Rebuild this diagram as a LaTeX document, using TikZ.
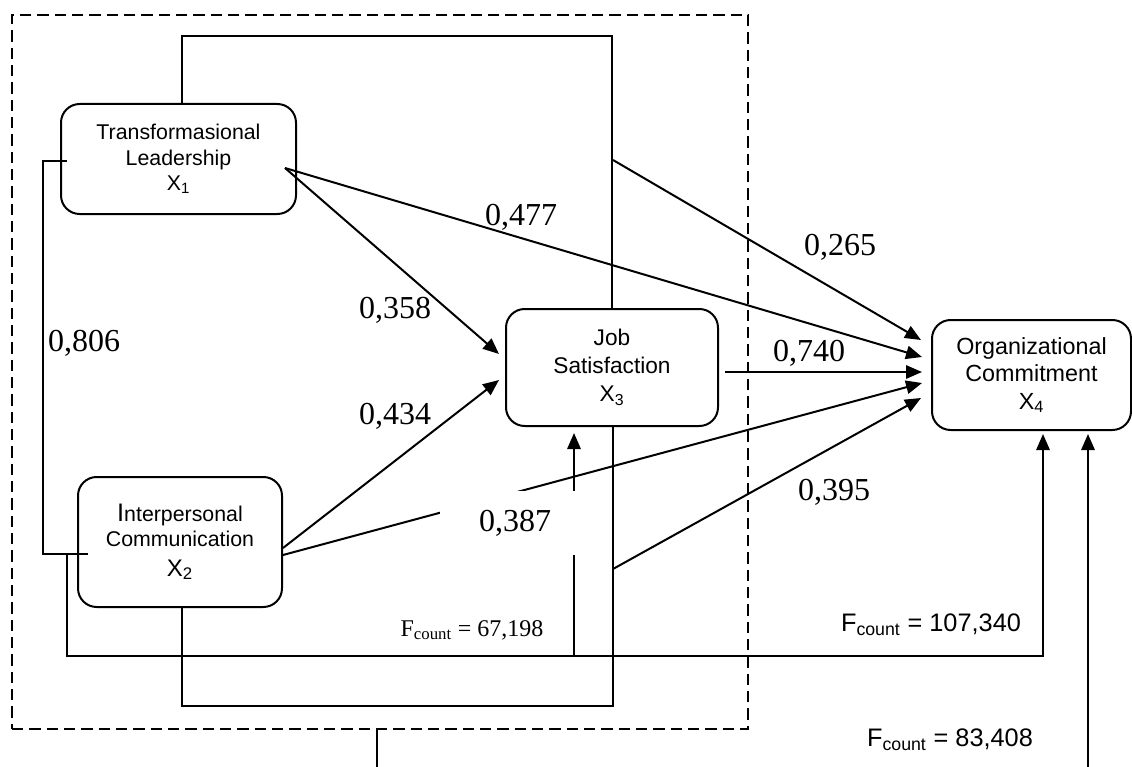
\documentclass[tikz,border=0pt]{standalone}
\usepackage{fontspec}
\setmainfont{Liberation Sans}
\newfontfamily\timesfont{Liberation Serif}
\usetikzlibrary{arrows.meta,positioning}

\begin{document}
\begin{tikzpicture}[x=0.75pt, y=-0.75pt,
	var/.style = {draw, rounded corners=14pt, line width=1.5pt, align=center, inner sep=0pt, font=\fontsize{16}{19}\selectfont},
	coef/.style = {font=\timesfont\fontsize{24}{28}\selectfont, inner sep=0pt},
	fcount/.style = {font=\fontsize{19}{22}\selectfont, inner sep=0pt},
	link/.style = {line width=1.5pt},
	arr/.style = {link, -{Triangle[length=12pt, width=10pt]}}]
			
			\useasboundingbox (0,0) rectangle (1132,767);
			
			\node[draw, line width=2pt, dash pattern=on 8.5pt off 4.5pt, minimum width=552pt, minimum height=535.5pt] (grp) at (380,372) {};
			
			\node[var, minimum width=176.25pt, minimum height=82.5pt] (tl) at (178.5,159) {Transformasional\\Leadership\\X\textsubscript{1}};
			\node[var, minimum width=153pt, minimum height=97.5pt] (ic) at (180,542) {{\fontsize{19}{19}\selectfont I}nterpersonal\\Communication\\[3pt]{\fontsize{18}{20}\selectfont X\textsubscript{2}}};
			\node[var, minimum width=159pt, minimum height=87.75pt, font=\fontsize{17}{21}\selectfont] (js) at (612,367.5) {Job\\Satisfaction\\X\textsubscript{3}};
			\node[var, minimum width=149.25pt, minimum height=82.5pt, font=\fontsize{17.5}{20.6}\selectfont] (oc) at (1031.5,375) {Organizational\\Commitment\\X\textsubscript{4}};
			
			\coordinate (o1) at ([shift={(-12,9)}]tl.east);
			\coordinate (o2) at ([shift={(0,6)}]ic.east);
			\coordinate (o3) at ([shift={(0,13)}]ic.east);
			
			\draw[link] ([shift={(3.5,0)}]tl.north) -- ++(0,-67) -| (js.north);
			\draw[link] ([shift={(1,0)}]js.south) -- ++(0,279) -| ([shift={(2,0)}]ic.south);
			\draw[link] ([shift={(7,2)}]tl.west) -- ++(-24.5,0) |- ([shift={(11,12)}]ic.west);
			\draw[link] ([shift={(-3,0)}]grp.south) -- ++(0,38);
			
			\draw[arr] ([shift={(1,-148)}]js.north) -- ([shift={(-10,-35)}]oc.west);
			\draw[arr] (o1) -- ([shift={(-9,-18)}]oc.west);
			\draw[arr] (o1) -- ([shift={(-6,-13.5)}]js.west);
			\draw[arr] (o2) -- ([shift={(-6,12.5)}]js.west);
			\draw[arr] (o3) -- ([shift={(-9,8)}]oc.west);
			\draw[arr] ([shift={(6,4.5)}]js.east) -- ([shift={(-9,-3)}]oc.west);
			\draw[arr] ([shift={(1,142)}]js.south) -- ([shift={(-10,23)}]oc.west);
			
			\draw[arr] ([shift={(-10,12)}]ic.west) -- ++(0,102) -| ([shift={(11.5,3)}]oc.south);
			\draw[arr] ([shift={(-38,230)}]js.south) -- ([shift={(-38,6)}]js.south);
			\draw[arr] ([shift={(56.5,337)}]oc.south) -- ([shift={(56.5,3)}]oc.south);
			
			\node[coef] (c477) at (521,217) {0,477};
			\node[coef] (c265) at (840,247) {0,265};
			\node[coef] (c358) at (395,310) {0,358};
			\node[coef] (c806) at (84,343) {0,806};
			\node[coef] (c740) at (809,353) {0,740};
			\node[coef] (c434) at (395,416) {0,434};
			\node[coef] (c395) at (834,492) {0,395};
			\node[coef, fill=white, minimum width=112.5pt, minimum height=48pt] (c387) at (515,523) {0,387};
			
			\node[font=\timesfont\fontsize{18}{20}\selectfont, inner sep=0pt] (f67) at (472,630) {F\textsubscript{count} = 67,198};
			\node[fcount] (f107) at (931,625) {F\textsubscript{count} = 107,340};
			\node[fcount] (f83) at (950,740) {F\textsubscript{count} = 83,408};
			
			\end{tikzpicture}
\end{document}
